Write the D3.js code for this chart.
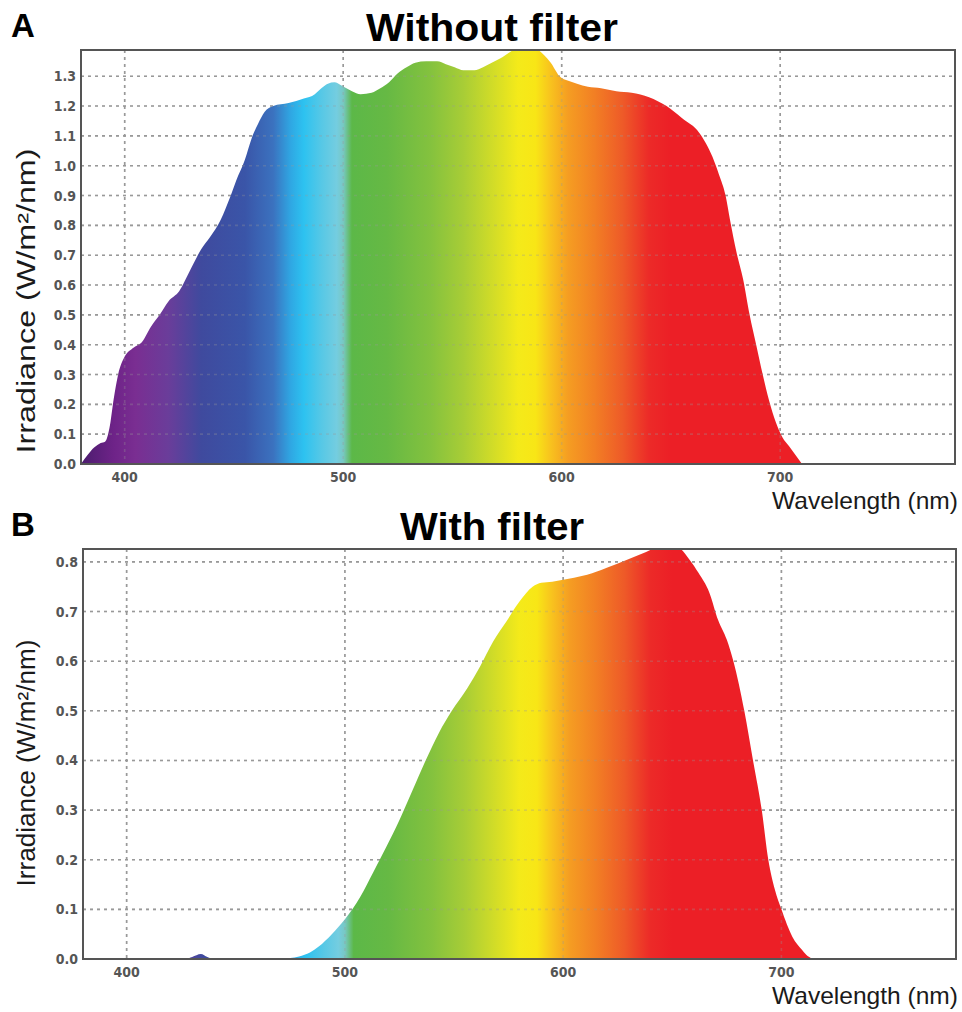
<!DOCTYPE html>
<html>
<head>
<meta charset="utf-8">
<script src="https://cdn.jsdelivr.net/npm/d3@7"></script>
<style>
  body { margin: 0; background: #fff; }
  svg { display: block; }
  .tick-label { font-family: "Liberation Sans Narrow", "DejaVu Sans Condensed", sans-serif; font-weight: bold; font-size: 14px; fill: #555; }
  .axis-title { font-family: "Liberation Sans", Arial, sans-serif; fill: #1a1a1a; }
  .panel-title { font-family: "Liberation Sans", Arial, sans-serif; font-weight: bold; fill: #000; }
</style>
</head>
<body>
<svg width="962" height="1012"></svg>
<script>
// panel A, without filter (nm, W/m2/nm)
var nmA = [380, 383, 386, 389, 391, 393, 395, 397, 400, 404, 408, 412, 416, 420, 425, 430, 435, 439, 444, 448,
  451, 455, 458, 461, 464, 468, 475, 482, 487, 490, 493, 496, 499, 504, 508, 513, 517, 521, 525, 529, 533,
  538, 543, 547, 551, 555, 560, 564, 568, 572, 576, 580, 585, 589, 592, 595, 599, 603, 607, 612, 618,
  625, 632, 640, 648, 655, 663, 669, 672, 675, 677, 680, 683, 686, 689, 692, 695, 698, 701, 704, 707, 710];
var irrA = [0.0, 0.03, 0.055, 0.07, 0.075, 0.12, 0.22, 0.30, 0.36, 0.39, 0.41, 0.46, 0.50, 0.545, 0.58, 0.65, 0.72, 0.76, 0.82, 0.89,
  0.95, 1.02, 1.09, 1.14, 1.18, 1.20, 1.21, 1.225, 1.24, 1.26, 1.275, 1.28, 1.27, 1.25, 1.24, 1.245, 1.26, 1.28, 1.31, 1.33, 1.345,
  1.35, 1.35, 1.34, 1.33, 1.32, 1.32, 1.33, 1.345, 1.36, 1.38, 1.395, 1.40, 1.39, 1.37, 1.345, 1.30, 1.285, 1.275, 1.265, 1.26,
  1.25, 1.245, 1.23, 1.20, 1.16, 1.11, 1.03, 0.97, 0.90, 0.82, 0.71, 0.62, 0.50, 0.40, 0.30, 0.21, 0.14, 0.09, 0.06, 0.03, 0.0];

// panel B, with filter
var nmB = [380, 427, 430, 434, 437, 440, 470, 475, 479, 484, 488, 494, 500, 507, 513, 519, 525, 531, 537, 543,
  549, 556, 562, 568, 574, 580, 586, 590, 595, 600, 605, 611, 620, 629, 638, 644, 652, 658, 662, 667,
  671, 675, 678, 683, 687, 691, 694, 697, 700, 705, 709.5, 712, 715];
var irrB = [0, 0, 0.004, 0.01, 0.004, 0, 0, 0.002, 0.005, 0.013, 0.025, 0.05, 0.08, 0.125, 0.175, 0.226, 0.28, 0.34, 0.40, 0.455,
  0.50, 0.545, 0.59, 0.64, 0.68, 0.72, 0.75, 0.758, 0.76, 0.764, 0.768, 0.774, 0.788, 0.804, 0.82, 0.83, 0.83, 0.804, 0.778, 0.738,
  0.683, 0.643, 0.60, 0.50, 0.40, 0.30, 0.20, 0.14, 0.10, 0.045, 0.018, 0.006, 0];

var xTicks = [400, 500, 600, 700];
var yTicksA = [0, 0.1, 0.2, 0.3, 0.4, 0.5, 0.6, 0.7, 0.8, 0.9, 1.0, 1.1, 1.2, 1.3];
var yTicksB = [0, 0.1, 0.2, 0.3, 0.4, 0.5, 0.6, 0.7, 0.8];

// spectrum colours by wavelength
var stopNm = [380, 395, 405, 420, 435, 455, 468, 476, 482, 490, 497, 500, 504, 520, 540, 555, 570, 580, 588, 595, 603, 615, 628, 640, 650, 780];
var stopColor = ["#4b1c6e", "#6e2388", "#7a2e92", "#6a3d9a", "#3f4a9e", "#3a55a8", "#3b72bf", "#2fa7e3", "#2dc2f0", "#56c8e6",
  "#74cde0", "#78c8c4", "#5cb848", "#66b944", "#84c23e", "#a8cd36", "#d6de26", "#f4ea1a", "#f8e616", "#f8c21e",
  "#f59d22", "#f27f24", "#ee5a28", "#ec2a28", "#ec1f26", "#ec1f26"];

var svg = d3.select("svg");
var defs = svg.append("defs");

function drawPanel(id, nm, irr, yTicks, box, yMax) {
  var x = d3.scaleLinear().domain([380, 780]).range([box.left, box.right]);
  var y = d3.scaleLinear().domain([0, yMax]).range([box.bottom, box.top]);

  var grad = defs.append("linearGradient")
    .attr("id", "spec" + id)
    .attr("gradientUnits", "userSpaceOnUse")
    .attr("x1", x(380)).attr("x2", x(780)).attr("y1", 0).attr("y2", 0);
  grad.selectAll("stop")
    .data(stopNm)
    .enter().append("stop")
    .attr("offset", function(d) { return (d - 380) / 400; })
    .attr("stop-color", function(d, i) { return stopColor[i]; });

  defs.append("clipPath").attr("id", "clip" + id)
    .append("rect")
    .attr("x", box.left).attr("y", box.top)
    .attr("width", box.right - box.left).attr("height", box.bottom - box.top);

  var g = svg.append("g");

  // dotted grid, drawn under the fill and again faintly over it
  function grid(sel, op) {
    sel.selectAll(".h").data(yTicks.slice(1)).enter().append("line")
      .attr("x1", box.left).attr("x2", box.right)
      .attr("y1", function(d) { return y(d); }).attr("y2", function(d) { return y(d); })
      .style("stroke", "#999").style("stroke-width", 1.6)
      .style("stroke-dasharray", "3,4").style("opacity", op);
    sel.selectAll(".v").data(xTicks).enter().append("line")
      .attr("y1", box.top).attr("y2", box.bottom)
      .attr("x1", function(d) { return x(d); }).attr("x2", function(d) { return x(d); })
      .style("stroke", "#999").style("stroke-width", 1.6)
      .style("stroke-dasharray", "3,4").style("opacity", op);
  }
  grid(g.append("g"), 1);

  var area = d3.area()
    .x(function(d, i) { return x(nm[i]); })
    .y0(box.bottom)
    .y1(function(d) { return y(d); })
    .curve(d3.curveMonotoneX);

  g.append("path")
    .datum(irr)
    .attr("clip-path", "url(#clip" + id + ")")
    .attr("d", area)
    .style("fill", "url(#spec" + id + ")");

  grid(g.append("g"), 0.3);

  // frame
  g.append("rect")
    .attr("x", box.left).attr("y", box.top)
    .attr("width", box.right - box.left).attr("height", box.bottom - box.top)
    .style("fill", "none").style("stroke", "#555").style("stroke-width", 2);

  g.selectAll(".yl").data(yTicks).enter().append("text")
    .attr("class", "tick-label")
    .attr("x", box.left - 5).attr("y", function(d) { return y(d); })
    .attr("dy", "0.36em").attr("text-anchor", "end")
    .text(d3.format(".1f"));

  g.selectAll(".xl").data(xTicks).enter().append("text")
    .attr("class", "tick-label")
    .attr("x", function(d) { return x(d); }).attr("y", box.bottom + 18)
    .attr("text-anchor", "middle")
    .text(function(d) { return d; });

  g.append("text").attr("class", "axis-title")
    .attr("x", 958).attr("y", box.bottom + 45)
    .attr("text-anchor", "end").style("font-size", "24px")
    .attr("textLength", 186).attr("lengthAdjust", "spacingAndGlyphs")
    .text("Wavelength (nm)");

  g.append("text").attr("class", "axis-title")
    .attr("transform", "translate(35," + box.labelY + ") rotate(-90)")
    .attr("text-anchor", "middle").style("font-size", "25px")
    .attr("textLength", box.labelLen).attr("lengthAdjust", "spacingAndGlyphs")
    .text("Irradiance (W/m²/nm)");

  g.append("text").attr("class", "panel-title")
    .attr("x", 492).attr("y", box.top - 9)
    .attr("text-anchor", "middle").style("font-size", "38px")
    .attr("textLength", box.titleLen).attr("lengthAdjust", "spacingAndGlyphs")
    .text(box.title);

  g.append("text").attr("class", "panel-title")
    .attr("x", 11).attr("y", box.top - 13)
    .style("font-size", "33px")
    .text(id);
}

drawPanel("A", nmA, irrA, yTicksA, { left: 81, right: 955, top: 50, bottom: 464, title: "Without filter", titleLen: 252, labelY: 301, labelLen: 305 }, 1.388);
drawPanel("B", nmB, irrB, yTicksB, { left: 83, right: 956, top: 549, bottom: 959, title: "With filter", titleLen: 184, labelY: 763, labelLen: 247 }, 0.826);
</script>
</body>
</html>
